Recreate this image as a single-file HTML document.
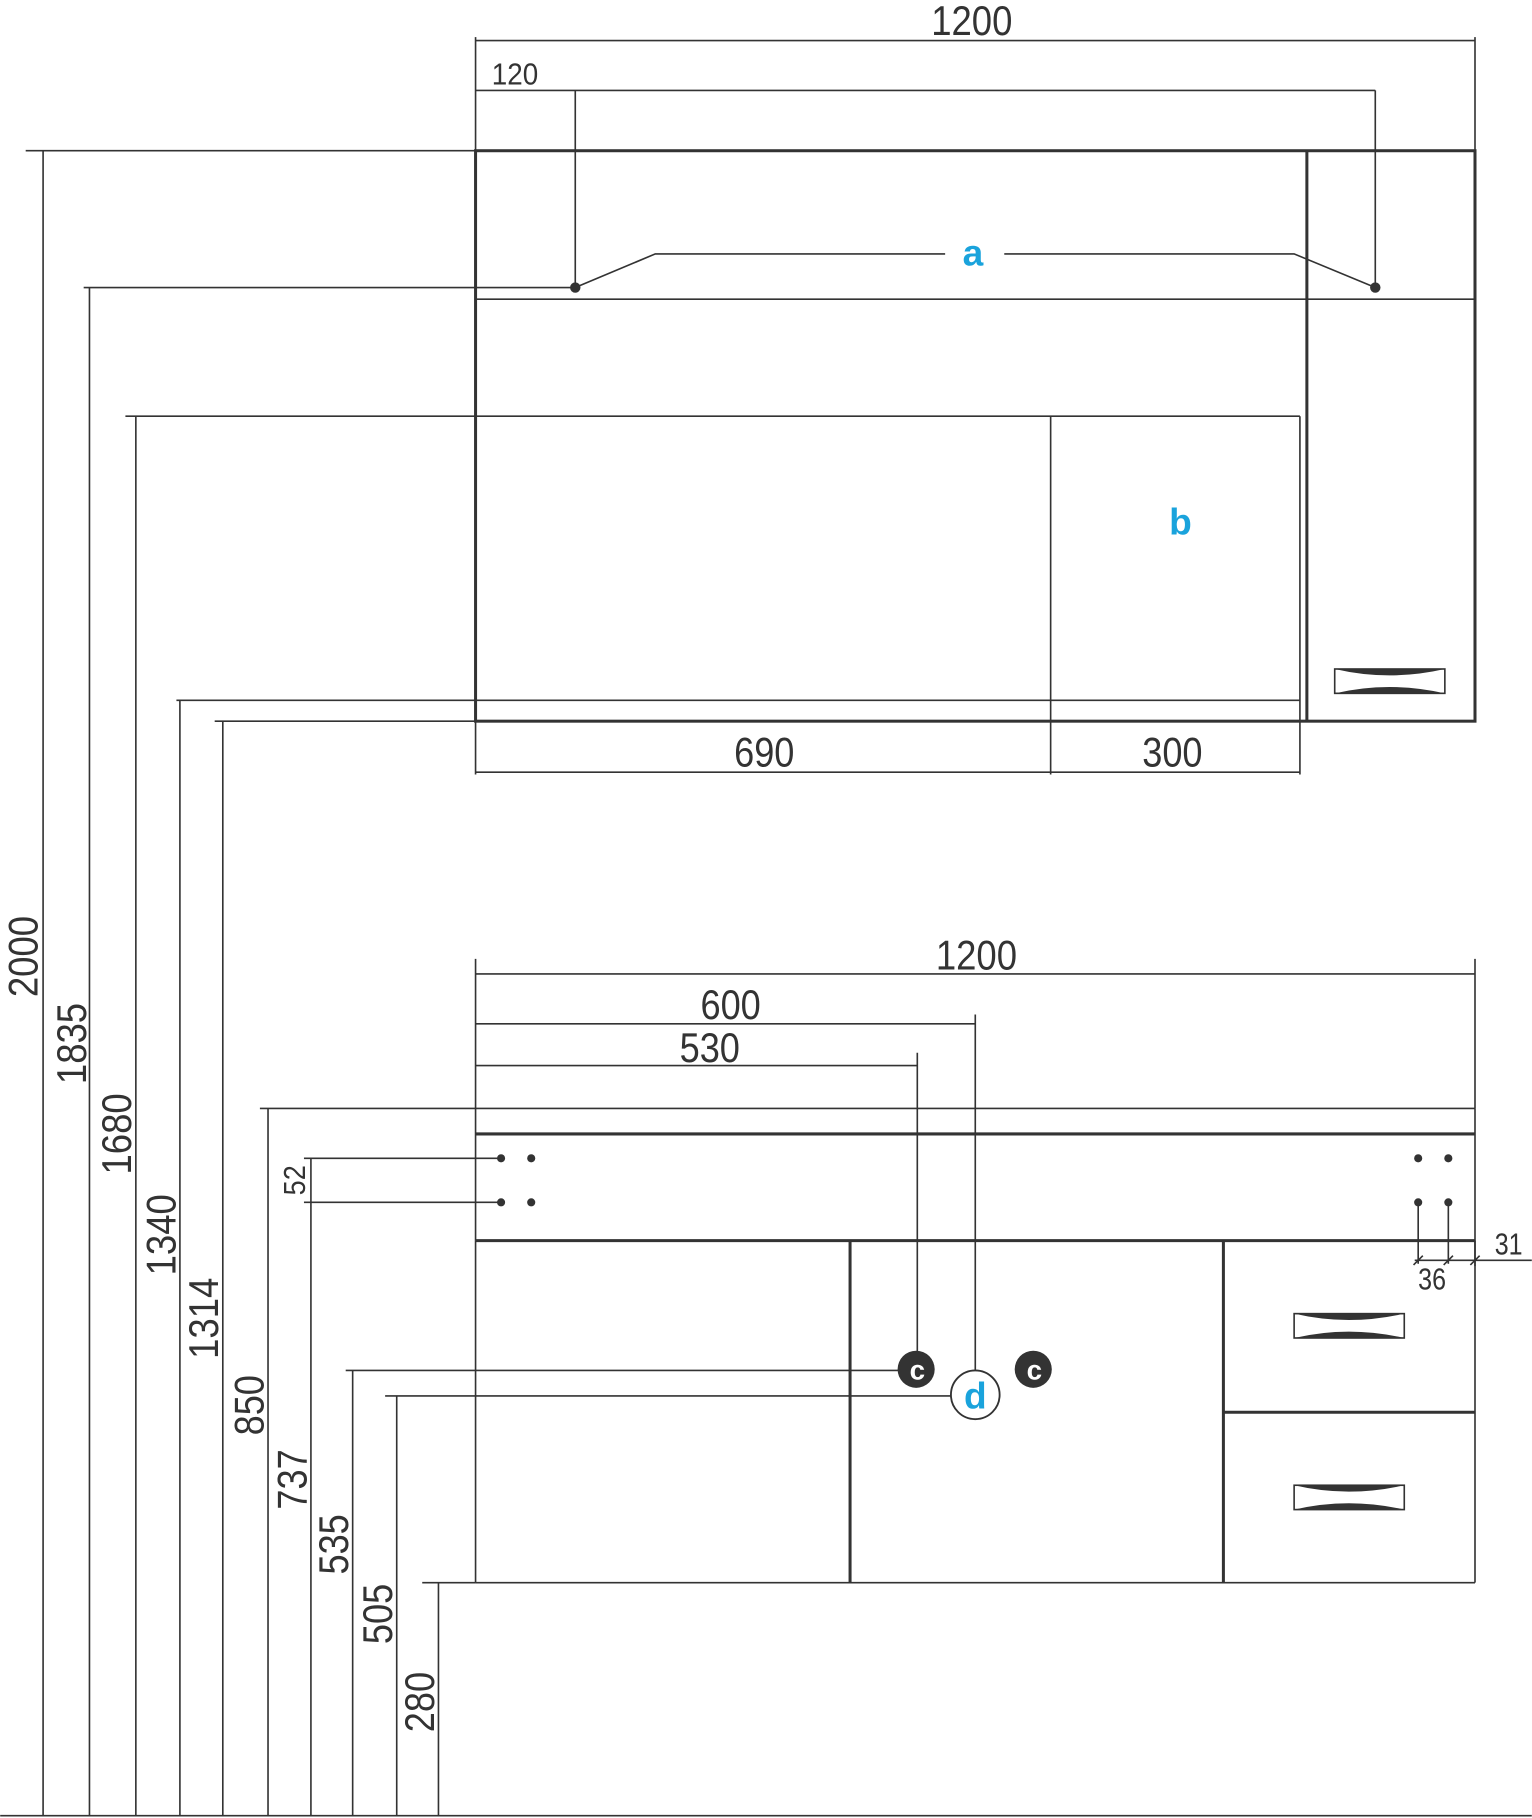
<!DOCTYPE html>
<html><head><style>html,body{margin:0;padding:0;background:#fff}svg{display:block}</style></head><body>
<svg width="1532" height="1818" viewBox="0 0 1321 1568" xmlns="http://www.w3.org/2000/svg" font-family="Liberation Sans, sans-serif">
<g stroke="#333" stroke-width="1.4" fill="none">
<line x1="410" y1="35" x2="1272" y2="35"/>
<line x1="410" y1="32" x2="410" y2="130"/>
<line x1="1272" y1="32" x2="1272" y2="130"/>
<line x1="410" y1="78" x2="1186" y2="78"/>
<line x1="496" y1="78" x2="496" y2="248"/>
<line x1="1186" y1="78" x2="1186" y2="248"/>
<line x1="22" y1="130" x2="410" y2="130"/>
<line x1="72" y1="248" x2="496" y2="248"/>
<polyline points="496,248 565,219 815,219"/>
<polyline points="866,219 1116,219 1186,248"/>
<line x1="410" y1="258" x2="1127" y2="258"/>
<line x1="108" y1="359" x2="1121" y2="359"/>
<line x1="1121" y1="359" x2="1121" y2="668"/>
<line x1="906" y1="359" x2="906" y2="668"/>
<line x1="152" y1="604" x2="1121" y2="604"/>
<line x1="185" y1="622" x2="410" y2="622"/>
<line x1="410" y1="666" x2="1121" y2="666"/>
<line x1="410" y1="622" x2="410" y2="668"/>
<line x1="410" y1="840" x2="1272" y2="840"/>
<line x1="410" y1="827" x2="410" y2="956"/>
<line x1="1272" y1="827" x2="1272" y2="956"/>
<line x1="410" y1="883" x2="841" y2="883"/>
<line x1="841" y1="875" x2="841" y2="1182"/>
<line x1="410" y1="919" x2="791" y2="919"/>
<line x1="791" y1="908" x2="791" y2="1166"/>
<line x1="224" y1="956" x2="1272" y2="956"/>
<line x1="410" y1="956" x2="410" y2="1070"/>
<line x1="1272" y1="956" x2="1272" y2="1092"/>
<line x1="262" y1="999" x2="432" y2="999"/>
<line x1="262" y1="1037" x2="432" y2="1037"/>
<line x1="1223" y1="1037" x2="1223" y2="1090"/>
<line x1="1249" y1="1037" x2="1249" y2="1090"/>
<line x1="1220" y1="1087" x2="1321" y2="1087"/>
<line x1="1219" y1="1091" x2="1227" y2="1083"/>
<line x1="1245" y1="1091" x2="1253" y2="1083"/>
<line x1="1268" y1="1091" x2="1276" y2="1083"/>
<line x1="298" y1="1182" x2="776" y2="1182"/>
<line x1="332" y1="1204" x2="820" y2="1204"/>
<line x1="364" y1="1365" x2="410" y2="1365"/>
<line x1="410" y1="1070" x2="410" y2="1365"/>
<line x1="410" y1="1365" x2="1272" y2="1365"/>
<line x1="1272" y1="1070" x2="1272" y2="1365"/>
<line x1="37" y1="130" x2="37" y2="1566"/>
<line x1="77" y1="248" x2="77" y2="1566"/>
<line x1="117" y1="359" x2="117" y2="1566"/>
<line x1="155" y1="604" x2="155" y2="1566"/>
<line x1="192" y1="622" x2="192" y2="1566"/>
<line x1="231" y1="956" x2="231" y2="1566"/>
<line x1="268" y1="999" x2="268" y2="1566"/>
<line x1="304" y1="1182" x2="304" y2="1566"/>
<line x1="342" y1="1204" x2="342" y2="1566"/>
<line x1="378" y1="1365" x2="378" y2="1566"/>
<line x1="0" y1="1566" x2="1321" y2="1566"/>
</g>
<g stroke="#333" stroke-width="2.6" fill="none">
<rect x="410" y="130" width="862" height="492"/>
<line x1="1127" y1="130" x2="1127" y2="622"/>
<line x1="410" y1="978" x2="1272" y2="978"/>
<line x1="410" y1="1070" x2="1272" y2="1070"/>
<line x1="733" y1="1070" x2="733" y2="1365"/>
<line x1="1055" y1="1070" x2="1055" y2="1365"/>
<line x1="1055" y1="1218" x2="1272" y2="1218"/>
</g>
<line x1="1272" y1="258" x2="1127" y2="258" stroke="#333" stroke-width="1.4"/>
<g stroke="#333" stroke-width="1.4" fill="#fff">
<rect x="1151" y="577" width="95" height="21"/>
<rect x="1116" y="1133" width="95" height="21"/>
<rect x="1116" y="1281" width="95" height="21"/>
</g>
<g fill="#333">
<path d="M1151,577 Q1198,588 1246,577 Z"/><path d="M1151,598 Q1198,587 1246,598 Z"/>
<path d="M1116,1133 Q1163,1144 1211,1133 Z"/><path d="M1116,1154 Q1163,1143 1211,1154 Z"/>
<path d="M1116,1281 Q1163,1292 1211,1281 Z"/><path d="M1116,1302 Q1163,1291 1211,1302 Z"/>
<circle cx="496" cy="248" r="4.5"/><circle cx="1186" cy="248" r="4.5"/>
<circle cx="432" cy="999" r="3.5"/><circle cx="458" cy="999" r="3.5"/><circle cx="432" cy="1037" r="3.5"/><circle cx="458" cy="1037" r="3.5"/>
<circle cx="1223" cy="999" r="3.5"/><circle cx="1249" cy="999" r="3.5"/><circle cx="1223" cy="1037" r="3.5"/><circle cx="1249" cy="1037" r="3.5"/>
<circle cx="790" cy="1181" r="16"/><circle cx="891" cy="1181" r="16"/>
</g>
<circle cx="841" cy="1203" r="21" fill="#fff" stroke="#333" stroke-width="1.6"/>
<g font-weight="bold" fill="#fff" font-size="24" text-anchor="middle">
<text x="791" y="1190">c</text><text x="892" y="1190">c</text>
</g>
<g font-weight="bold" fill="#1aa3dc" font-size="32" text-anchor="middle">
<text x="839" y="229">a</text><text x="1018" y="461">b</text><text x="841" y="1215">d</text>
</g>
<g fill="#333" font-size="36" text-anchor="middle">
<text x="838" y="30" textLength="70" lengthAdjust="spacingAndGlyphs">1200</text>
<text x="842" y="836" textLength="70" lengthAdjust="spacingAndGlyphs">1200</text>
<text x="659" y="661" textLength="52" lengthAdjust="spacingAndGlyphs">690</text>
<text x="1011" y="661" textLength="52" lengthAdjust="spacingAndGlyphs">300</text>
<text x="630" y="879" textLength="52" lengthAdjust="spacingAndGlyphs">600</text>
<text x="612" y="916" textLength="52" lengthAdjust="spacingAndGlyphs">530</text>
</g>
<g fill="#333" font-size="26" text-anchor="middle">
<text x="444" y="73" textLength="40" lengthAdjust="spacingAndGlyphs">120</text>
<text x="1301" y="1082" textLength="24" lengthAdjust="spacingAndGlyphs">31</text>
<text x="1235" y="1112" textLength="24" lengthAdjust="spacingAndGlyphs">36</text>
<text transform="translate(263,1018) rotate(-90)" textLength="26" lengthAdjust="spacingAndGlyphs">52</text>
</g>
<g fill="#333" font-size="36" text-anchor="middle">
<text transform="translate(32,825) rotate(-90)" textLength="70" lengthAdjust="spacingAndGlyphs">2000</text>
<text transform="translate(74,900) rotate(-90)" textLength="70" lengthAdjust="spacingAndGlyphs">1835</text>
<text transform="translate(113,978) rotate(-90)" textLength="70" lengthAdjust="spacingAndGlyphs">1680</text>
<text transform="translate(151,1065) rotate(-90)" textLength="70" lengthAdjust="spacingAndGlyphs">1340</text>
<text transform="translate(188,1137) rotate(-90)" textLength="70" lengthAdjust="spacingAndGlyphs">1314</text>
<text transform="translate(227,1212) rotate(-90)" textLength="52" lengthAdjust="spacingAndGlyphs">850</text>
<text transform="translate(264,1276) rotate(-90)" textLength="52" lengthAdjust="spacingAndGlyphs">737</text>
<text transform="translate(300,1332) rotate(-90)" textLength="52" lengthAdjust="spacingAndGlyphs">535</text>
<text transform="translate(338,1392) rotate(-90)" textLength="52" lengthAdjust="spacingAndGlyphs">505</text>
<text transform="translate(374,1468) rotate(-90)" textLength="52" lengthAdjust="spacingAndGlyphs">280</text>
</g>
</svg>
</body></html>
